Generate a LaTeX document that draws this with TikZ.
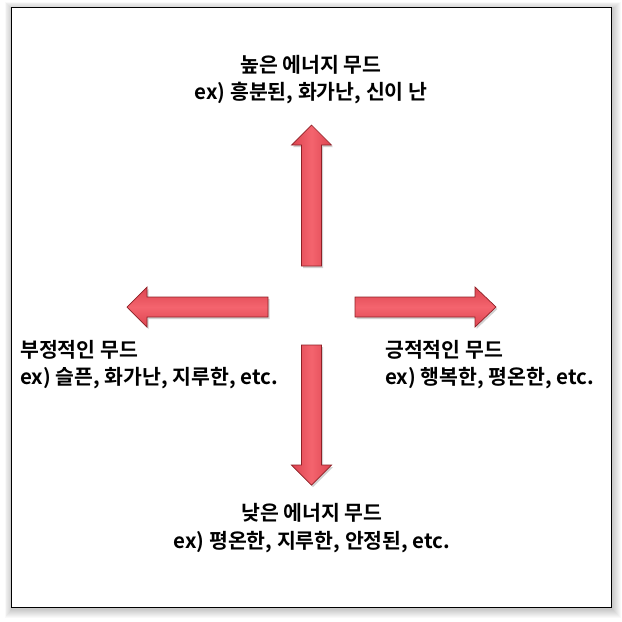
\documentclass[tikz,border=0pt]{standalone}
\usepackage{fontspec}
\newfontfamily\kofont{Noto Sans CJK KR}[BoldFont={* Bold}]
\usetikzlibrary{shadows}
\definecolor{arrowfill}{HTML}{F4646E}
\definecolor{arrowedge}{HTML}{DC4450}
\definecolor{arrowline}{HTML}{8E2026}
\tikzset{
  x=1pt, y=-1pt,
  blockarrow/.style={draw=arrowline, line width=0.7pt, line join=miter,
    drop shadow={shadow xshift=1.5pt, shadow yshift=-2pt, opacity=0.18, fill=black}},
  varrow/.style={blockarrow, left color=arrowedge, right color=arrowedge, middle color=arrowfill},
  harrow/.style={blockarrow, top color=arrowedge, bottom color=arrowedge, middle color=arrowfill},
  lbl/.style={font=\kofont\bfseries\fontsize{20.5}{27.5}\selectfont, inner sep=0pt, text=black},
}
\begin{document}
\begin{tikzpicture}
\useasboundingbox (0,0) rectangle (622,622);
\fill[white] (0,0) rectangle (622,622);
% frame shadow
\foreach \i in {1,...,9} {
  \fill[black, opacity=0.022] (11-\i*0.8+1,7-\i*0.8+2) rectangle (611+\i+1,607+\i+2);
}
\node[draw=black, line width=1pt, fill=white, minimum width=600pt, minimum height=600pt, inner sep=0pt] (frame) at (311,307) {};

% arrows
\path[varrow] (301.5,266) -- (301.5,145) -- (291.5,145) -- (311.5,125) -- (331.5,145) -- (321.5,145) -- (321.5,266) -- cycle;
\path[varrow] (301.5,345) -- (301.5,465) -- (291.5,465) -- (311.5,485) -- (331.5,465) -- (321.5,465) -- (321.5,345) -- cycle;
\path[harrow] (268,297) -- (147,297) -- (147,287) -- (127,307) -- (147,327) -- (147,317) -- (268,317) -- cycle;
\path[harrow] (355,297) -- (475,297) -- (475,287) -- (496,307) -- (475,327) -- (475,317) -- (355,317) -- cycle;

% labels
\node[lbl, align=center, anchor=center] (high) at (311,79.5) {높은 에너지 무드\\ex) 흥분된, 화가난, 신이 난};
\node[lbl, align=left, anchor=west] (neg) at (20,364.5) {부정적인 무드\\ex) 슬픈, 화가난, 지루한, etc.};
\node[lbl, align=left, anchor=west] (pos) at (385,364.5) {긍적적인 무드\\ex) 행복한, 평온한, etc.};
\node[lbl, align=center, anchor=center] (low) at (312,528) {낮은 에너지 무드\\ex) 평온한, 지루한, 안정된, etc.};
\end{tikzpicture}
\end{document}
